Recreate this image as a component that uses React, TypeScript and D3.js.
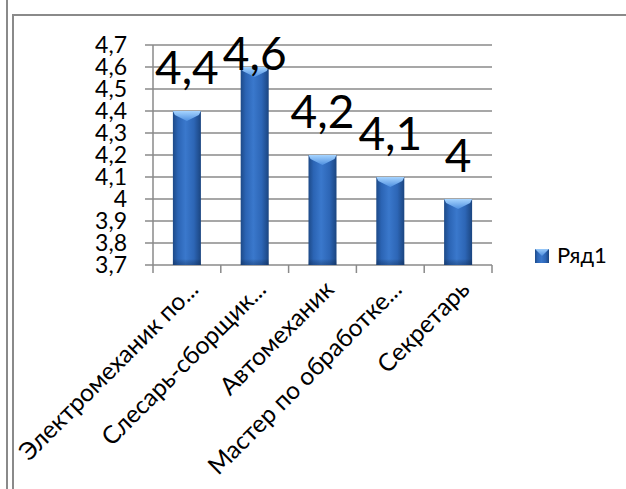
import React from "react";
import * as d3 from "d3";

const categories = [
  "Электромеханик по...",
  "Слесарь-сборщик...",
  "Автомеханик",
  "Мастер по обработке...",
  "Секретарь",
];
const values = [4.4, 4.6, 4.2, 4.1, 4.0];
const yTicks = [3.7, 3.8, 3.9, 4.0, 4.1, 4.2, 4.3, 4.4, 4.5, 4.6, 4.7];
const seriesName = "Ряд1";

const W = 626;
const H = 489;
const plot = { left: 153, right: 492, top: 45, bottom: 265 };
const FONT = "Lato, 'Open Sans', sans-serif";
const GRID = "#8a8a8a";

const fmt = (v: number) => String(+v.toFixed(1)).replace(".", ",");

export default function App() {
  const x = d3
    .scaleBand<string>()
    .domain(categories)
    .range([plot.left, plot.right])
    .paddingInner(0.587)
    .paddingOuter(0.2935);
  const y = d3.scaleLinear().domain([3.7, 4.7]).range([plot.bottom, plot.top]);
  const step = x.step();
  const bw = x.bandwidth();
  const labelMinBaseline = 70;

  return (
    <svg
      width={W}
      height={H}
      style={{ position: "absolute", left: 0, top: 0, background: "#fff" }}
    >
      <defs>
        <linearGradient id="barG" x1="0" x2="1" y1="0" y2="0">
          <stop offset="0" stopColor="#1d4a88" />
          <stop offset="0.18" stopColor="#2b64b4" />
          <stop offset="0.45" stopColor="#3a78cc" />
          <stop offset="0.75" stopColor="#2d66b6" />
          <stop offset="1" stopColor="#1b4580" />
        </linearGradient>
        <linearGradient id="capG" x1="0" x2="0" y1="0" y2="1">
          <stop offset="0" stopColor="#a6d4ff" />
          <stop offset="1" stopColor="#4f90e0" />
        </linearGradient>
        <linearGradient id="botG" x1="0" x2="0" y1="0" y2="1">
          <stop offset="0" stopColor="#000" stopOpacity="0" />
          <stop offset="1" stopColor="#0a2550" stopOpacity="0.35" />
        </linearGradient>
      </defs>

      {/* frame lines */}
      <line x1={7} x2={7} y1={0} y2={H} stroke={GRID} strokeWidth={2} />
      <line x1={13} x2={13} y1={15} y2={H} stroke={GRID} strokeWidth={2} />
      <line x1={12} x2={W} y1={15} y2={15} stroke={GRID} strokeWidth={2} />

      {/* gridlines */}
      {yTicks.map((t) => (
        <line
          key={"g" + t}
          x1={plot.left - 8}
          x2={plot.right}
          y1={y(t)}
          y2={y(t)}
          stroke={GRID}
          strokeWidth={1.5}
        />
      ))}
      {/* y axis */}
      <line
        x1={plot.left}
        x2={plot.left}
        y1={plot.top}
        y2={plot.bottom}
        stroke={GRID}
        strokeWidth={1.5}
      />
      {/* category ticks */}
      {d3.range(categories.length + 1).map((i) => (
        <line
          key={"ct" + i}
          x1={plot.left + i * step}
          x2={plot.left + i * step}
          y1={plot.bottom}
          y2={plot.bottom + 8}
          stroke={GRID}
          strokeWidth={1.5}
        />
      ))}

      {/* y tick labels */}
      {yTicks.map((t) => (
        <text
          key={"yl" + t}
          x={127}
          y={y(t)}
          dy="0.36em"
          textAnchor="end"
          fontFamily={FONT}
          fontSize={23}
          fill="#000"
        >
          {fmt(t)}
        </text>
      ))}

      {/* bars */}
      {categories.map((c, i) => {
        const x0 = x(c)!;
        const top = y(values[i]);
        const h = plot.bottom - top;
        const cx = x0 + bw / 2;
        return (
          <g key={"b" + c}>
            <rect x={x0} y={top} width={bw} height={h} fill="url(#barG)" />
            <rect
              x={x0}
              y={plot.bottom - 6}
              width={bw}
              height={6}
              fill="url(#botG)"
            />
            <path
              d={`M${x0},${top} L${x0 + bw},${top} L${x0 + bw - 2},${top + 4} L${cx},${top + 10} L${x0 + 2},${top + 4} Z`}
              fill="url(#capG)"
            />
          </g>
        );
      })}

      {/* data labels */}
      {categories.map((c, i) => {
        const cx = x(c)! + bw / 2;
        const base = Math.max(y(values[i]) - 27, labelMinBaseline);
        return (
          <text
            key={"dl" + c}
            x={cx}
            y={base}
            textAnchor="middle"
            fontFamily={FONT}
            fontSize={46}
            fill="#000"
          >
            {fmt(values[i])}
          </text>
        );
      })}

      {/* category labels */}
      {categories.map((c) => {
        const cx = x(c)! + bw / 2;
        const ax = cx + 13;
        const ay = plot.bottom + 26;
        return (
          <text
            key={"cl" + c}
            x={ax}
            y={ay}
            transform={`rotate(-45 ${ax} ${ay})`}
            textAnchor="end"
            fontFamily={FONT}
            fontSize={24.5}
            fill="#000"
          >
            {c}
          </text>
        );
      })}

      {/* legend */}
      <rect x={535} y={249} width={14} height={14} fill="url(#barG)" />
      <path d="M535,249 L549,249 L542,256 Z" fill="url(#capG)" opacity={0.9} />
      <text x={557} y={263} fontFamily={FONT} fontSize={22} fill="#000">
        {seriesName}
      </text>
    </svg>
  );
}
